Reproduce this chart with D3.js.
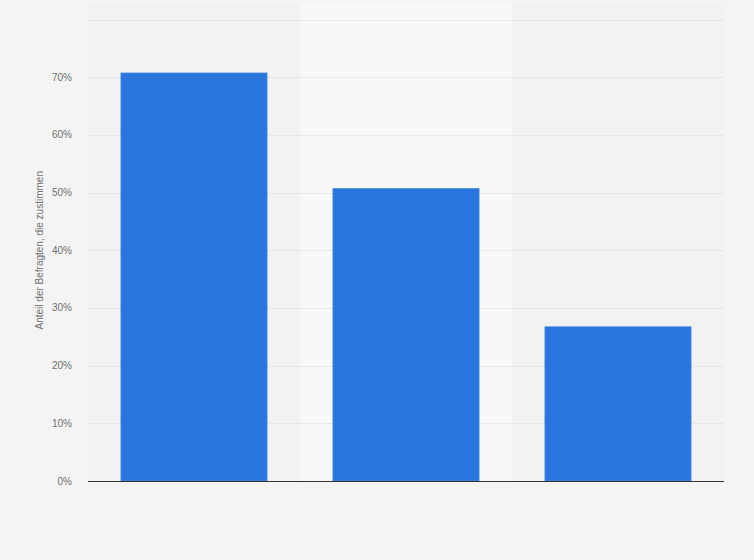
<!DOCTYPE html>
<html>
<head>
<meta charset="utf-8">
<script src="https://cdn.jsdelivr.net/npm/d3@7"></script>
<style>
  body { margin: 0; background: #f4f4f4; }
  svg { display: block; font-family: "Liberation Sans", Arial, sans-serif; }
</style>
</head>
<body>
<div id="chart"></div>
<script>
let width = 754, height = 560;
let margin = {top: 19.5, right: 30, bottom: 79, left: 88};

// data (no category labels shown)
let categories = ['A', 'B', 'C'];
let values = [71, 51, 27];
let yTicks = [0, 10, 20, 30, 40, 50, 60, 70, 80];
let yLabel = 'Anteil der Befragten, die zustimmen';

let svg = d3.select('#chart')
    .append('svg')
    .attr('width', width)
    .attr('height', height);

svg.append('rect')
    .attr('width', width)
    .attr('height', height)
    .attr('fill', '#f4f4f4');

let xScale = d3.scaleBand()
    .domain(categories)
    .range([margin.left, width - margin.right])
    .paddingInner(0.31)
    .paddingOuter(0.155);

let yScale = d3.scaleLinear()
    .domain([0, 80])
    .range([height - margin.bottom, margin.top]);

// plot background and the lighter band behind the middle category
let step = xScale.step();
svg.append('rect')
    .attr('x', margin.left)
    .attr('y', 3)
    .attr('width', width - margin.right - margin.left)
    .attr('height', yScale(0) - 3)
    .attr('fill', '#f2f2f2');

svg.append('rect')
    .attr('x', xScale(categories[1]) - step * 0.155)
    .attr('y', 3)
    .attr('width', step)
    .attr('height', yScale(0) - 3)
    .attr('fill', '#f8f8f8');

// grid
svg.append('g')
    .selectAll('line')
    .data(yTicks.filter(d => d > 0))
    .join('line')
    .attr('x1', margin.left)
    .attr('x2', width - margin.right)
    .attr('y1', d => Math.round(yScale(d)) + 0.5)
    .attr('y2', d => Math.round(yScale(d)) + 0.5)
    .attr('stroke', '#d9d9d9')
    .attr('stroke-width', 1)
    .attr('stroke-dasharray', '1,1');

// y tick labels
svg.append('g')
    .selectAll('text')
    .data(yTicks.filter(d => d < 80))
    .join('text')
    .attr('x', 72)
    .attr('y', d => yScale(d))
    .attr('dy', '0.35em')
    .attr('text-anchor', 'end')
    .attr('font-size', 10)
    .attr('fill', '#707070')
    .text(d => d + '%');

// bars
svg.append('g')
    .selectAll('rect')
    .data(values)
    .join('rect')
    .attr('x', (d, i) => xScale(categories[i]))
    .attr('y', d => yScale(d) + 1.5)
    .attr('width', xScale.bandwidth())
    .attr('height', d => yScale(0) - yScale(d) - 1.5)
    .attr('fill', '#2876dd')
    .attr('stroke', '#5594e8')
    .attr('stroke-width', 0.6);

// baseline
svg.append('line')
    .attr('x1', margin.left)
    .attr('x2', width - margin.right)
    .attr('y1', yScale(0) + 0.5)
    .attr('y2', yScale(0) + 0.5)
    .attr('stroke', '#333')
    .attr('stroke-width', 1.2);

// y axis title
svg.append('text')
    .attr('transform', `translate(43,${(yScale(0) + yScale(80)) / 2}) rotate(-90)`)
    .attr('text-anchor', 'middle')
    .attr('font-size', 10)
    .attr('fill', '#707070')
    .text(yLabel);
</script>
</body>
</html>
